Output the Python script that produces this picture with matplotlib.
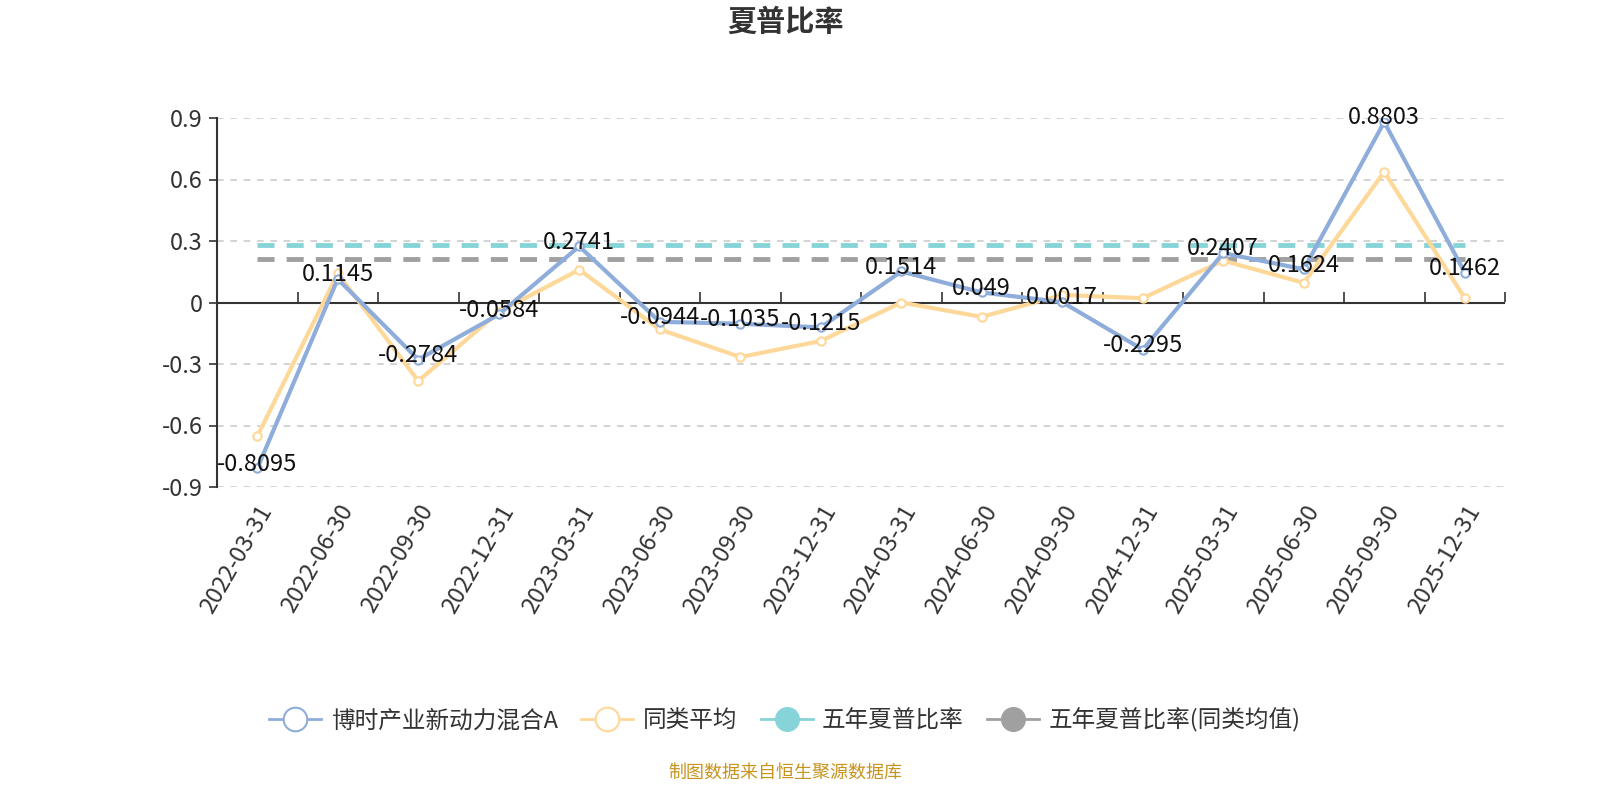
import matplotlib.pyplot as plt
from matplotlib.lines import Line2D
import numpy as np

plt.rcParams['font.family'] = ['Noto Sans CJK SC', 'DejaVu Sans']

dates = ['2022-03-31', '2022-06-30', '2022-09-30', '2022-12-31',
         '2023-03-31', '2023-06-30', '2023-09-30', '2023-12-31',
         '2024-03-31', '2024-06-30', '2024-09-30', '2024-12-31',
         '2025-03-31', '2025-06-30', '2025-09-30', '2025-12-31']
fund = [-0.8095, 0.1145, -0.2784, -0.0584, 0.2741, -0.0944, -0.1035, -0.1215,
        0.1514, 0.049, 0.0017, -0.2295, 0.2407, 0.1624, 0.8803, 0.1462]
peer = [-0.653, 0.142, -0.383, -0.046, 0.160, -0.131, -0.266, -0.188,
        0.0, -0.070, 0.037, 0.021, 0.204, 0.096, 0.637, 0.022]
five_year = 0.281
five_year_peer = 0.212

names = ['博时产业新动力混合A', '同类平均', '五年夏普比率', '五年夏普比率(同类均值)']
c_fund = '#8faddb'
c_peer = '#fdd899'
c_five = '#87d4d8'
c_five_peer = '#a0a0a0'

fig = plt.figure(figsize=(16, 8), dpi=100)
ax = fig.add_axes([217/1600, 1-487/800, 1288/1600, 369/800])

x = np.arange(len(dates))
ax.set_xlim(-0.5, len(dates) - 0.5)
ax.set_ylim(-0.9, 0.9)

ax.axhline(0, color='#333333', lw=1.5, zorder=2)
ax.plot(x, fund, color=c_fund, lw=3, marker='o', ms=6, mfc='white',
        mec=c_fund, mew=1.5, zorder=4)
ax.plot(x, peer, color=c_peer, lw=3, marker='o', ms=6, mfc='white',
        mec=c_peer, mew=1.5, zorder=3)
ax.plot([x[0], x[-1]], [five_year, five_year], color=c_five, lw=3.5,
        ls=(0, (3.5, 2.5)), zorder=2)
ax.plot([x[0], x[-1]], [five_year_peer, five_year_peer], color=c_five_peer,
        lw=3.5, ls=(0, (3.5, 2.5)), zorder=2)

for xi, v in zip(x, fund):
    ax.annotate(f'{v:g}', (xi, v), xytext=(0, 3), textcoords='offset points',
                ha='center', va='center', fontsize=17, color='#111111', zorder=6)

# y axis
ax.set_yticks([-0.9, -0.6, -0.3, 0, 0.3, 0.6, 0.9])
ax.set_yticklabels(['-0.9', '-0.6', '-0.3', '0', '0.3', '0.6', '0.9'])
ax.tick_params(axis='y', length=6, width=1.2, color='#333333',
               labelsize=17, labelcolor='#333333', pad=4)
ax.yaxis.grid(True, ls=(0, (4, 4)), color='#cccccc', lw=1.2)
ax.set_axisbelow(True)
for s in ['top', 'right', 'bottom']:
    ax.spines[s].set_visible(False)
ax.spines['left'].set_color('#333333')
ax.spines['left'].set_linewidth(1.5)

# x labels at the bottom, axis line at zero
ax.set_xticks(x)
ax.set_xticklabels(dates, rotation=60, ha='right', va='top',
                   rotation_mode='anchor', fontsize=17, color='#333333')
ax.tick_params(axis='x', length=0, pad=10)

zero_axis = ax.secondary_xaxis(0.5)
zero_axis.set_xticks(np.arange(len(dates) + 1) - 0.5)
zero_axis.set_xticklabels([])
zero_axis.tick_params(axis='x', length=7, width=1.2, color='#333333',
                      direction='out')
for s in zero_axis.spines.values():
    s.set_visible(False)

fig.text(785/1600, 1-22/800, '夏普比率', ha='center', va='center',
         fontsize=21, fontweight='bold', color='#333333')

handles = [
    Line2D([], [], color=c_fund, lw=2, marker='o', ms=17, mfc='white', mec=c_fund, mew=1.5),
    Line2D([], [], color=c_peer, lw=2, marker='o', ms=17, mfc='white', mec=c_peer, mew=1.5),
    Line2D([], [], color=c_five, lw=2, marker='o', ms=17, mfc=c_five, mec=c_five),
    Line2D([], [], color=c_five_peer, lw=2, marker='o', ms=17, mfc=c_five_peer, mec=c_five_peer),
]
fig.legend(handles, names, loc='center', bbox_to_anchor=(785/1600, 1-720/800),
           ncol=4, frameon=False, fontsize=17, handlelength=2.2,
           columnspacing=1.0, handletextpad=0.4, labelcolor='#333333')

fig.text(785/1600, 1-773/800, '制图数据来自恒生聚源数据库', ha='center',
         va='center', fontsize=13, color='#c8941e')

fig.savefig('out.png', dpi=100)
